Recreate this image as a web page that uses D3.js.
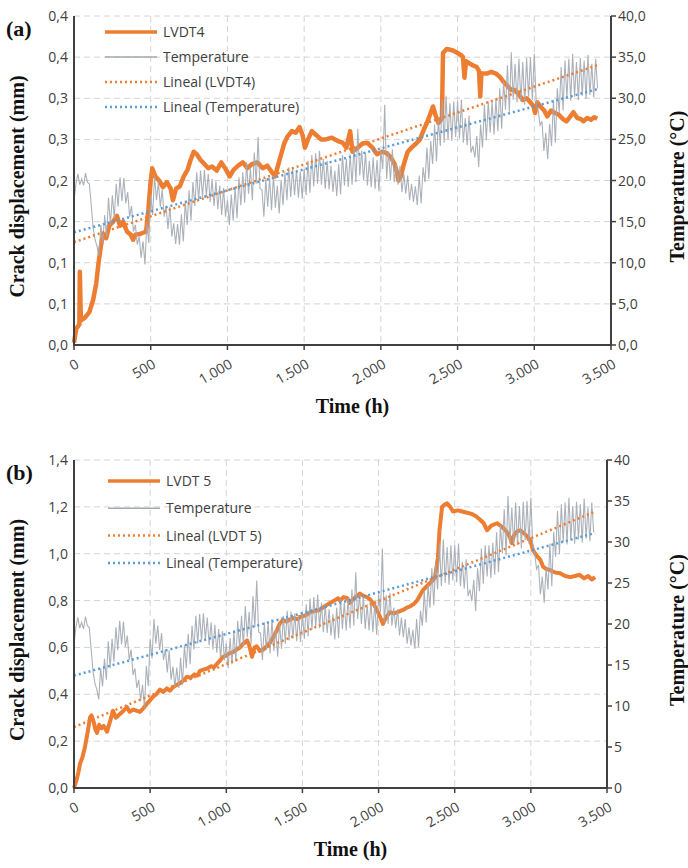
<!DOCTYPE html>
<html lang="en">
<head>
<meta charset="UTF-8">
<title>Crack displacement and temperature</title>
<script src="https://d3js.org/d3.v7.min.js"></script>
<style>
  body { margin: 0; background: #fff; }
  .tick-label { font: 14px "Open Sans", sans-serif; fill: #404040; }
  .legend-label { font: 14px "Open Sans", sans-serif; fill: #404040; }
  .title { font: bold 20px "Liberation Serif", serif; fill: #111; }
  .tag { font: bold 22px "Liberation Serif", serif; fill: #111; }
  .grid line { stroke: #d4d4d4; stroke-width: 1; stroke-dasharray: 6,4; }
  .axis-line { stroke: #404040; stroke-width: 2; }
</style>
</head>
<body>
<svg id="chart" width="688" height="868"></svg>
<script>
// shared x axis
const timeTicks = [0, 500, 1000, 1500, 2000, 2500, 3000, 3500];
const timeLabels = ['0', '500', '1.000', '1.500', '2.000', '2.500', '3.000', '3.500'];

// temperature (°C), one reading every 12.5 h (daily high / low), same sensor in both panels
const tempStep = 12.5;
const temperature = [
  17.5, 19.6, 20.8, 19.5, 20.2, 19.4, 20.9, 19.8, 19.6, 17.0, 14.2, 12.8, 12.0, 10.8, 14.6, 12.4,
  15.8, 13.2, 17.9, 14.6, 18.2, 15.4, 19.6, 16.8, 20.4, 17.5, 20.3, 17.2, 18.6, 15.6, 16.9, 13.8,
  14.6, 12.2, 13.2, 10.6, 12.6, 9.8, 14.9, 12.4, 18.2, 15.8, 20.6, 17.6, 19.8, 16.8, 18.9, 15.6,
  16.9, 14.1, 16.8, 13.2, 14.8, 12.3, 14.7, 12.2, 15.9, 12.6, 17.4, 14.6, 18.8, 15.1, 19.8, 16.9,
  21.0, 17.6, 21.2, 18.0, 21.3, 18.1, 20.8, 17.4, 20.2, 16.9, 19.9, 16.5, 19.4, 15.8, 19.1, 15.6,
  17.6, 14.6, 18.3, 15.1, 19.2, 15.4, 20.4, 17.0, 21.0, 17.3, 22.2, 18.4, 21.5, 17.6, 23.4, 19.6,
  25.3, 19.0, 18.9, 15.6, 20.2, 16.8, 20.3, 16.4, 20.6, 16.7, 19.4, 16.0, 20.1, 17.0, 21.0, 17.6,
  21.6, 18.0, 21.5, 18.2, 21.3, 17.9, 21.1, 17.8, 21.4, 18.2, 22.4, 18.5, 23.1, 19.3, 23.3, 19.6,
  23.6, 19.5, 22.6, 19.0, 22.4, 18.9, 21.8, 18.6, 21.2, 18.1, 22.0, 18.3, 23.1, 19.4, 22.6, 19.2,
  23.2, 19.5, 24.2, 19.8, 26.3, 20.6, 23.6, 20.0, 23.4, 19.4, 22.4, 19.2, 22.8, 19.0, 22.5, 18.7,
  23.6, 21.4, 29.2, 20.2, 23.5, 20.0, 23.8, 19.8, 22.0, 19.5, 21.8, 18.6, 20.8, 18.4, 20.6, 17.6,
  19.6, 17.4, 19.3, 17.0, 20.6, 17.2, 21.6, 19.8, 24.0, 20.2, 24.8, 22.0, 26.8, 22.3, 27.4, 24.2,
  29.8, 24.6, 30.3, 25.0, 29.4, 24.8, 29.6, 25.3, 29.6, 25.1, 29.8, 24.6, 27.6, 24.3, 27.9, 23.4,
  24.2, 22.8, 25.4, 21.6, 26.8, 24.0, 29.2, 24.9, 29.6, 25.8, 29.6, 25.6, 29.9, 26.0, 31.2, 26.3,
  32.1, 28.6, 34.0, 28.4, 35.6, 29.8, 34.2, 29.5, 34.8, 29.6, 34.4, 29.2, 34.9, 30.2, 35.0, 29.8,
  35.4, 29.4, 28.6, 26.7, 27.2, 23.6, 25.8, 22.6, 26.9, 24.2, 29.8, 24.6, 31.2, 28.2, 33.8, 28.5,
  34.6, 30.0, 34.8, 29.7, 35.4, 30.2, 34.4, 29.8, 34.9, 30.3, 34.6, 29.9, 35.3, 30.4, 34.2, 30.1,
  34.8, 31.2
];

// LVDT4 crack displacement (mm): [time h, value]
const lvdt4 = [
  [0,0.003],[15,0.02],[35,0.025],[38,0.089],[45,0.03],[70,0.033],[100,0.04],[125,0.055],
  [145,0.075],[160,0.10],[175,0.12],[190,0.135],[210,0.13],[230,0.145],[255,0.15],[280,0.157],
  [300,0.145],[320,0.15],[345,0.138],[370,0.134],[385,0.128],[400,0.134],[430,0.135],[470,0.138],
  [485,0.165],[500,0.2],[510,0.215],[530,0.205],[555,0.2],[580,0.192],[605,0.198],[630,0.19],
  [645,0.176],[665,0.19],[690,0.193],[715,0.205],[740,0.213],[760,0.225],[780,0.235],[800,0.232],
  [825,0.225],[850,0.22],[875,0.215],[900,0.217],[930,0.212],[960,0.222],[985,0.215],[1015,0.205],
  [1040,0.213],[1070,0.218],[1100,0.222],[1130,0.215],[1160,0.22],[1195,0.222],[1230,0.215],[1260,0.218],
  [1290,0.21],[1310,0.205],[1340,0.225],[1370,0.245],[1390,0.253],[1420,0.26],[1445,0.258],[1470,0.265],
  [1490,0.255],[1505,0.24],[1525,0.25],[1550,0.26],[1580,0.255],[1610,0.25],[1640,0.25],[1680,0.252],
  [1720,0.248],[1750,0.246],[1775,0.24],[1800,0.26],[1815,0.235],[1850,0.24],[1880,0.245],[1910,0.246],
  [1945,0.24],[1975,0.232],[2010,0.235],[2040,0.233],[2065,0.228],[2090,0.22],[2105,0.21],[2115,0.2],
  [2130,0.205],[2150,0.22],[2175,0.235],[2200,0.24],[2230,0.245],[2255,0.25],[2280,0.262],[2300,0.27],
  [2320,0.28],[2340,0.29],[2355,0.28],[2375,0.27],[2398,0.275],[2405,0.355],[2430,0.36],[2470,0.358],
  [2500,0.355],[2525,0.352],[2535,0.35],[2545,0.325],[2555,0.345],[2580,0.342],[2600,0.34],[2625,0.338],
  [2640,0.333],[2648,0.302],[2655,0.33],[2690,0.33],[2720,0.332],[2750,0.33],[2775,0.326],[2800,0.32],
  [2825,0.315],[2850,0.31],[2875,0.31],[2900,0.305],[2925,0.298],[2950,0.3],[2975,0.295],[2995,0.29],
  [3005,0.282],[3020,0.295],[3040,0.29],[3065,0.285],[3085,0.278],[3110,0.285],[3135,0.282],[3160,0.28],
  [3185,0.275],[3210,0.272],[3235,0.278],[3255,0.283],[3280,0.276],[3300,0.275],[3320,0.272],[3345,0.276],
  [3370,0.274],[3390,0.277],[3410,0.275]
];

// LVDT 5 crack displacement (mm): [time h, value]
const lvdt5 = [
  [0,0.0],[15,0.03],[30,0.07],[40,0.105],[55,0.13],[72,0.175],[90,0.24],[105,0.30],
  [115,0.31],[130,0.28],[140,0.25],[151,0.235],[165,0.27],[180,0.255],[195,0.265],[217,0.24],
  [235,0.28],[256,0.33],[275,0.30],[300,0.315],[325,0.33],[348,0.345],[365,0.325],[390,0.335],
  [410,0.33],[433,0.325],[455,0.34],[479,0.36],[500,0.375],[519,0.39],[540,0.40],[565,0.42],
  [585,0.41],[610,0.425],[630,0.415],[650,0.43],[675,0.44],[696,0.447],[720,0.46],[742,0.475],
  [765,0.47],[790,0.485],[810,0.48],[827,0.50],[850,0.505],[875,0.51],[900,0.52],[920,0.515],
  [939,0.53],[960,0.545],[978,0.56],[1000,0.565],[1020,0.575],[1044,0.58],[1065,0.59],[1090,0.60],
  [1110,0.615],[1136,0.63],[1150,0.61],[1169,0.56],[1185,0.60],[1200,0.605],[1220,0.585],[1241,0.59],
  [1265,0.605],[1287,0.62],[1310,0.645],[1333,0.675],[1350,0.70],[1372,0.717],[1395,0.71],[1418,0.72],
  [1445,0.725],[1470,0.72],[1484,0.73],[1510,0.735],[1530,0.74],[1550,0.75],[1580,0.755],[1615,0.76],
  [1645,0.775],[1681,0.79],[1710,0.80],[1734,0.81],[1747,0.80],[1770,0.815],[1795,0.81],[1810,0.79],
  [1840,0.81],[1878,0.83],[1900,0.82],[1924,0.815],[1945,0.805],[1963,0.79],[1985,0.765],[2010,0.73],
  [2029,0.70],[2050,0.73],[2075,0.75],[2100,0.745],[2121,0.75],[2140,0.755],[2161,0.76],[2185,0.77],
  [2207,0.775],[2230,0.785],[2252,0.80],[2270,0.82],[2292,0.845],[2315,0.86],[2338,0.875],[2355,0.885],
  [2371,0.90],[2390,0.985],[2400,1.10],[2417,1.20],[2435,1.21],[2450,1.215],[2470,1.20],[2489,1.18],
  [2520,1.185],[2550,1.18],[2581,1.175],[2610,1.17],[2640,1.16],[2667,1.145],[2690,1.13],[2713,1.10],
  [2740,1.12],[2778,1.13],[2800,1.12],[2818,1.11],[2840,1.095],[2863,1.07],[2875,1.045],[2890,1.08],
  [2910,1.095],[2929,1.10],[2950,1.09],[2975,1.075],[2995,1.06],[3014,1.015],[3040,0.99],[3061,0.975],
  [3080,0.945],[3100,0.935],[3126,0.93],[3160,0.92],[3192,0.917],[3225,0.905],[3258,0.90],[3290,0.905],
  [3320,0.91],[3350,0.895],[3376,0.905],[3400,0.89],[3422,0.90]
];

// linear trend lines (start, end)
const trendSpanA = [0, 3410];
const trendSpanB = [0, 3422];
const trendLvdt4 = [0.125, 0.34];
const trendLvdt5 = [0.26, 1.18];
const trendTemp = [13.7, 31.1];

// axis ticks
const dispTicksA = [0, 0.05, 0.1, 0.15, 0.2, 0.25, 0.3, 0.35, 0.4];
const dispLabelsA = ['0,0', '0,1', '0,1', '0,2', '0,2', '0,3', '0,3', '0,4', '0,4'];
const dispTicksB = [0, 0.2, 0.4, 0.6, 0.8, 1.0, 1.2, 1.4];
const dispLabelsB = ['0,0', '0,2', '0,4', '0,6', '0,8', '1,0', '1,2', '1,4'];
const tempTicks = [0, 5, 10, 15, 20, 25, 30, 35, 40];
const tempLabelsA = ['0,0', '5,0', '10,0', '15,0', '20,0', '25,0', '30,0', '35,0', '40,0'];
const tempLabelsB = ['0', '5', '10', '15', '20', '25', '30', '35', '40'];

const ORANGE = '#ED7D31', GRAY = '#a3a9b1', BLUE = '#5B9BD5';

const svg = d3.select('#chart');

function drawPanel(p) {
  const g = svg.append('g');
  const x = d3.scaleLinear().domain([0, 3500]).range([p.left, p.right]);
  const yD = d3.scaleLinear().domain([0, p.dispMax]).range([p.bottom, p.top]);
  const yT = d3.scaleLinear().domain([0, 40]).range([p.bottom, p.top]);

  // grid
  const grid = g.append('g').attr('class', 'grid');
  grid.selectAll('line.h').data(p.dispTicks.slice(1)).join('line')
    .attr('x1', p.left).attr('x2', p.right)
    .attr('y1', d => yD(d)).attr('y2', d => yD(d));
  grid.selectAll('line.v').data(timeTicks.slice(1, -1)).join('line')
    .attr('x1', d => x(d)).attr('x2', d => x(d))
    .attr('y1', p.top).attr('y2', p.bottom);

  // series
  const lineD = d3.line().x(d => x(d[0])).y(d => yD(d[1]));
  const lineT = d3.line().x((d, i) => x(i * tempStep)).y(d => yT(d));
  g.append('path').datum(p.lvdt).attr('d', lineD)
    .attr('fill', 'none').attr('stroke', ORANGE).attr('stroke-width', p.lvdtWidth)
    .attr('stroke-linejoin', 'round');
  g.append('path').datum(temperature).attr('d', lineT)
    .attr('fill', 'none').attr('stroke', GRAY).attr('stroke-width', 1.1).attr('opacity', 0.9);

  // trends
  g.append('line')
    .attr('x1', x(p.trendSpan[0])).attr('x2', x(p.trendSpan[1]))
    .attr('y1', yD(p.trendLvdt[0])).attr('y2', yD(p.trendLvdt[1]))
    .attr('stroke', ORANGE).attr('stroke-width', 2.5).attr('stroke-dasharray', '2,3');
  g.append('line')
    .attr('x1', x(p.trendSpan[0])).attr('x2', x(p.trendSpan[1]))
    .attr('y1', yT(trendTemp[0])).attr('y2', yT(trendTemp[1]))
    .attr('stroke', BLUE).attr('stroke-width', 2.5).attr('stroke-dasharray', '2,3');

  // axes
  g.append('line').attr('class', 'axis-line')
    .attr('x1', p.left).attr('x2', p.left).attr('y1', p.top).attr('y2', p.bottom + 1);
  g.append('line').attr('class', 'axis-line')
    .attr('x1', p.right).attr('x2', p.right).attr('y1', p.top).attr('y2', p.bottom + 1);
  g.append('line').attr('class', 'axis-line')
    .attr('x1', p.left - 1).attr('x2', p.right + 1).attr('y1', p.bottom).attr('y2', p.bottom);

  // left labels
  g.selectAll('text.yl').data(p.dispTicks).join('text')
    .attr('class', 'tick-label').attr('text-anchor', 'end')
    .attr('x', p.left - 6).attr('y', d => yD(d) + 5)
    .text((d, i) => p.dispLabels[i]);

  // right ticks + labels
  g.selectAll('line.rt').data(tempTicks).join('line')
    .attr('x1', p.right).attr('x2', p.right + 5)
    .attr('y1', d => yT(d)).attr('y2', d => yT(d))
    .attr('stroke', '#404040').attr('stroke-width', 1.5);
  g.selectAll('text.yr').data(tempTicks).join('text')
    .attr('class', 'tick-label')
    .attr('x', p.right + 7).attr('y', d => yT(d) + 5)
    .text((d, i) => p.tempLabels[i]);

  // bottom ticks + labels
  g.selectAll('line.bt').data(timeTicks).join('line')
    .attr('x1', d => x(d)).attr('x2', d => x(d))
    .attr('y1', p.bottom).attr('y2', p.bottom + 5)
    .attr('stroke', '#404040').attr('stroke-width', 1.5);
  g.selectAll('text.xl').data(timeTicks).join('text')
    .attr('class', 'tick-label').attr('text-anchor', 'end')
    .attr('transform', d => `translate(${x(d) + 6},${p.bottom + 22}) rotate(-30)`)
    .text((d, i) => timeLabels[i]);

  // titles
  g.append('text').attr('class', 'title').attr('text-anchor', 'middle')
    .attr('x', (p.left + p.right) / 2 + 10).attr('y', p.bottom + 68).text('Time (h)');
  g.append('text').attr('class', 'title').attr('text-anchor', 'middle')
    .attr('transform', `translate(24,${(p.top + p.bottom) / 2 + 6}) rotate(-90)`)
    .text('Crack displacement (mm)');
  g.append('text').attr('class', 'title').attr('text-anchor', 'middle')
    .attr('transform', `translate(684,${(p.top + p.bottom) / 2 + 6}) rotate(-90)`)
    .text('Temperature (°C)');
  g.append('text').attr('class', 'tag').attr('x', 6).attr('y', p.top + 20).text(p.tag);

  // legend
  const items = [
    { name: p.lvdtName, color: ORANGE, w: 3.5, dash: null },
    { name: 'Temperature', color: GRAY, w: 1.5, dash: null },
    { name: `Lineal (${p.lvdtName})`, color: ORANGE, w: 2.5, dash: '2,3' },
    { name: 'Lineal (Temperature)', color: BLUE, w: 2.5, dash: '2,3' }
  ];
  const lg = g.append('g').attr('transform', `translate(${p.legendX},${p.legendY})`);
  items.forEach((it, i) => {
    const yy = i * p.legendGap;
    lg.append('line').attr('x1', 0).attr('x2', 52).attr('y1', yy).attr('y2', yy)
      .attr('stroke', it.color).attr('stroke-width', it.w)
      .attr('stroke-dasharray', it.dash);
    lg.append('text').attr('class', 'legend-label').attr('x', 58).attr('y', yy + 5).text(it.name);
  });
}

drawPanel({
  left: 74, right: 611, top: 16, bottom: 345, dispMax: 0.4,
  dispTicks: dispTicksA, dispLabels: dispLabelsA, tempLabels: tempLabelsA,
  lvdt: lvdt4, lvdtName: 'LVDT4', lvdtWidth: 4.5, trendLvdt: trendLvdt4, trendSpan: trendSpanA,
  tag: '(a)', legendX: 105, legendY: 32, legendGap: 25
});
drawPanel({
  left: 74, right: 607, top: 460, bottom: 788, dispMax: 1.4,
  dispTicks: dispTicksB, dispLabels: dispLabelsB, tempLabels: tempLabelsB,
  lvdt: lvdt5, lvdtName: 'LVDT 5', lvdtWidth: 4, trendLvdt: trendLvdt5, trendSpan: trendSpanB,
  tag: '(b)', legendX: 108, legendY: 481, legendGap: 27.3
});
</script>
</body>
</html>
